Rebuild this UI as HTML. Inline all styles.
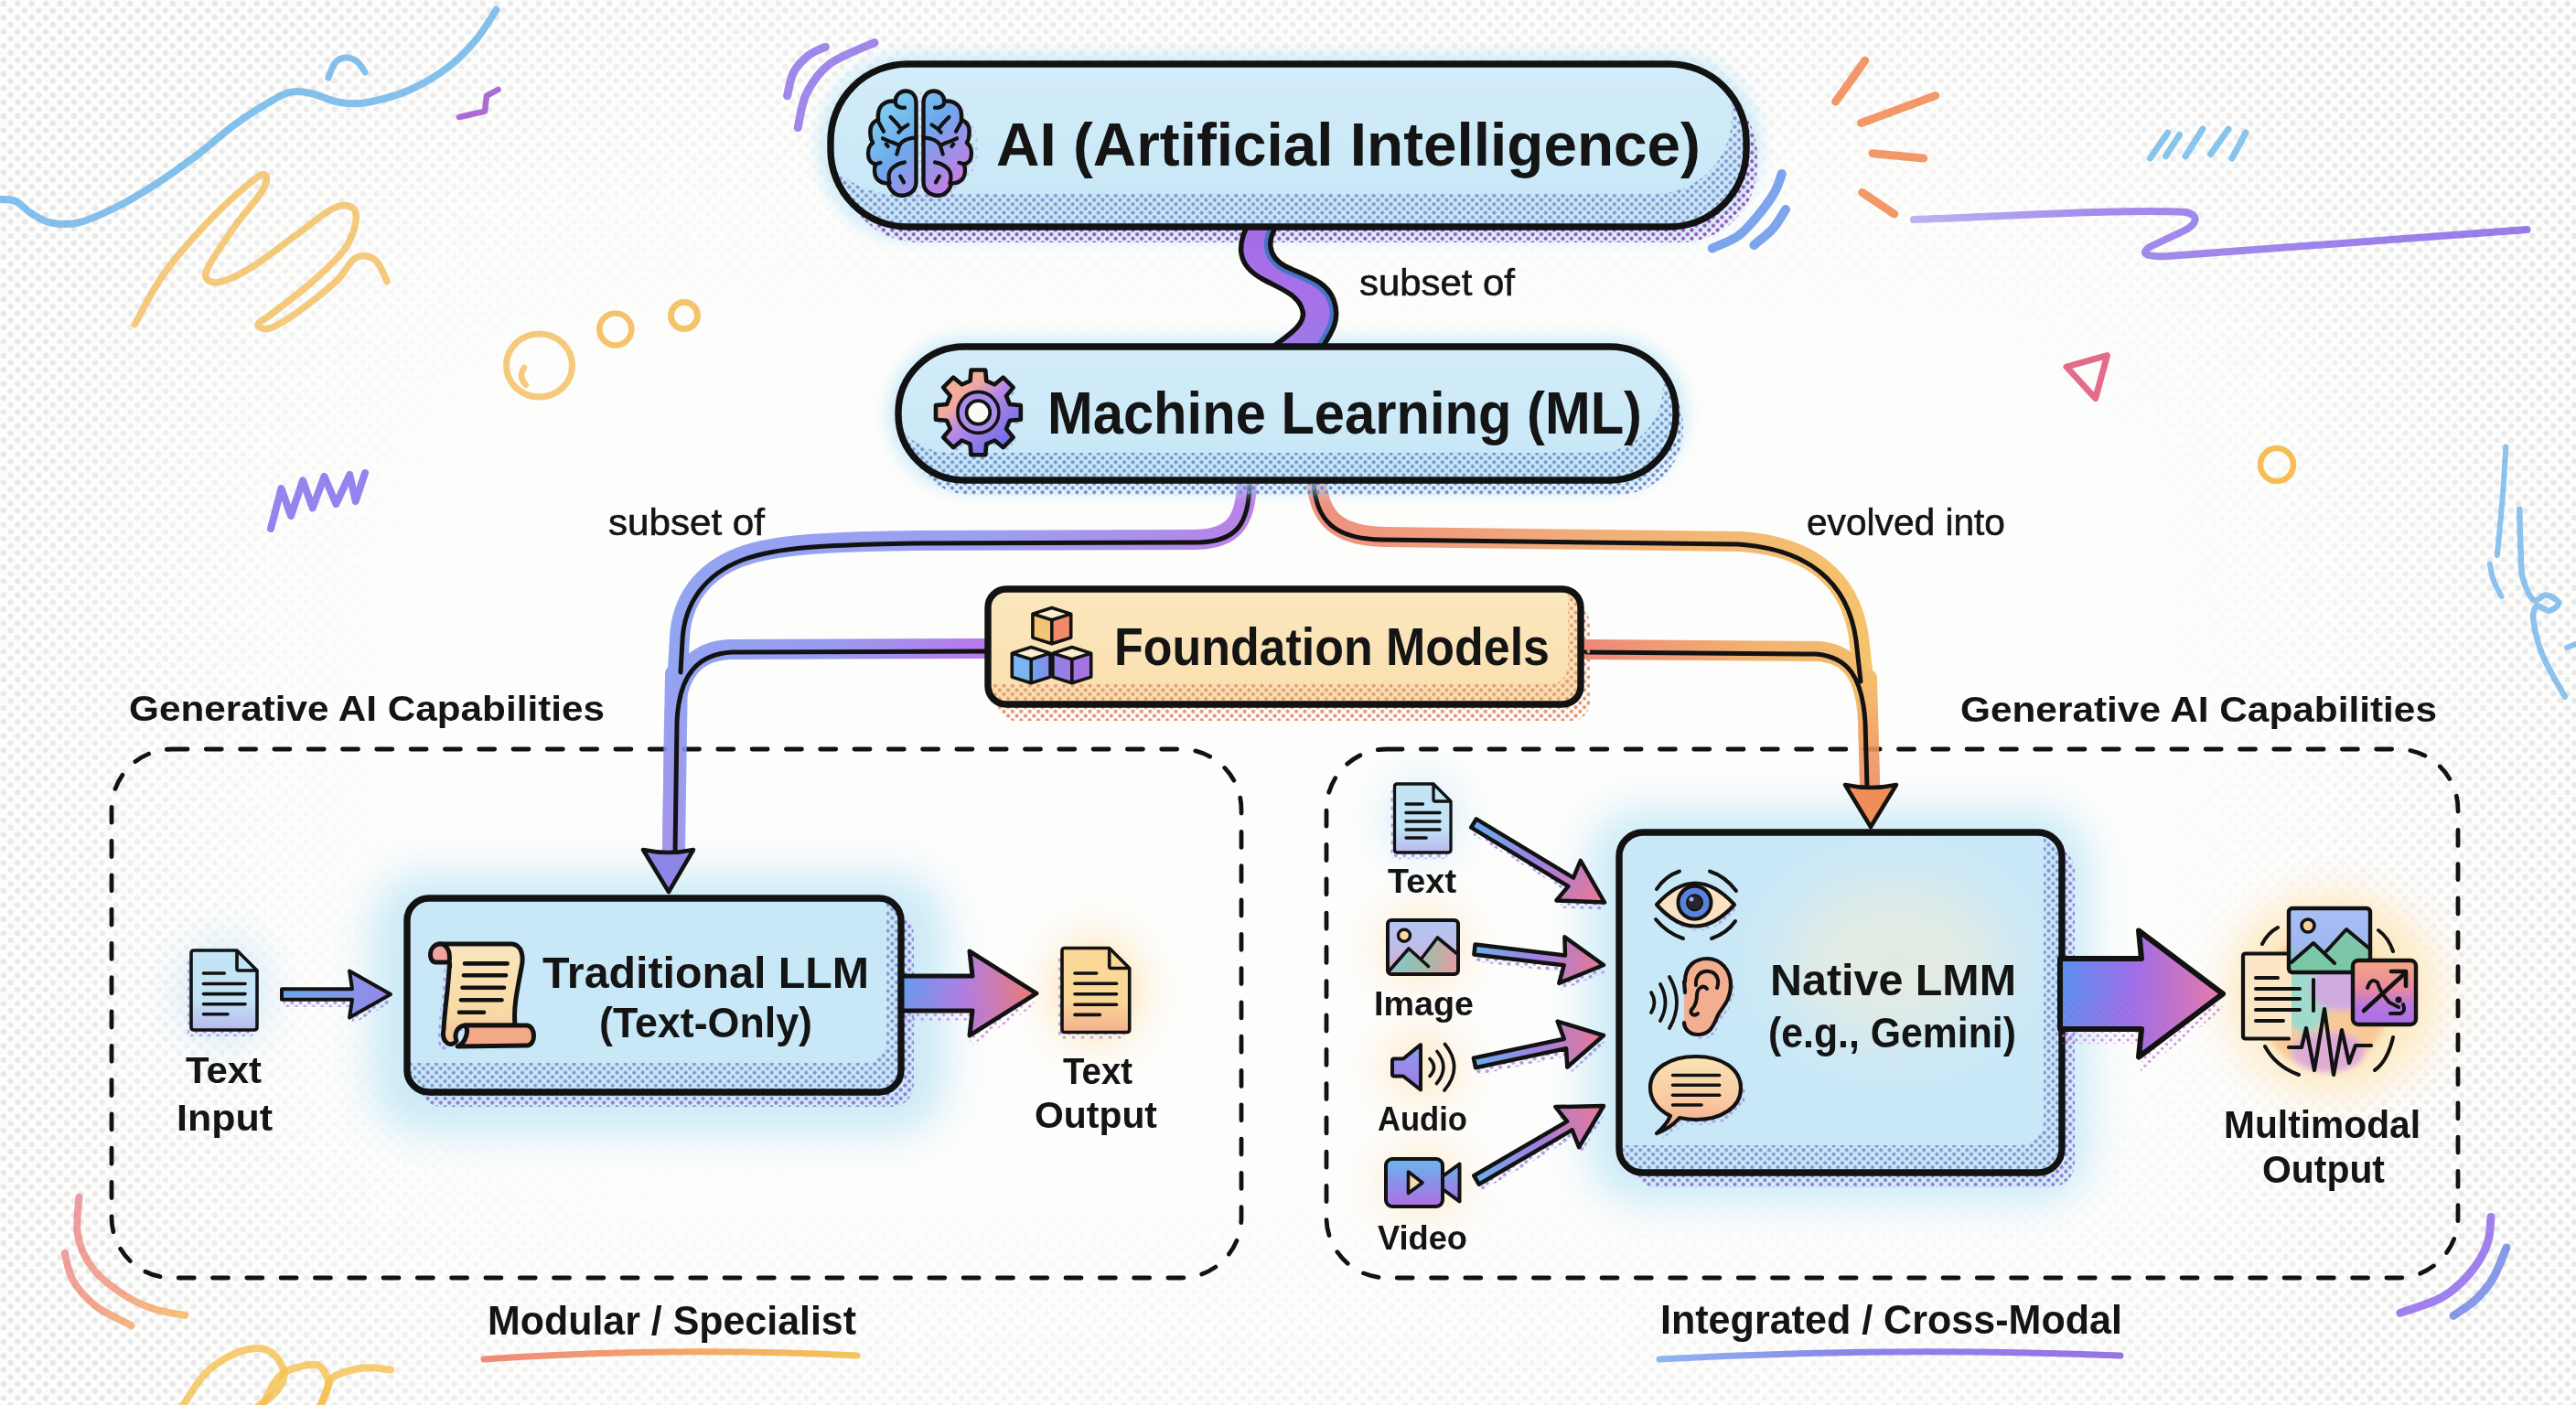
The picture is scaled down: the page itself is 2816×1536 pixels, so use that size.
<!DOCTYPE html>
<html><head><meta charset="utf-8">
<style>
html,body{margin:0;padding:0;background:#fdfdfc;}
body{width:2816px;height:1536px;overflow:hidden;position:relative;}
svg{position:absolute;left:0;top:0;display:block;}
text{font-family:"Liberation Sans",sans-serif;fill:#141414;}
</style></head><body>
<svg width="2816" height="1536" viewBox="0 0 2816 1536">
<defs>
<pattern id="bgdots" width="15.4" height="15.4" patternUnits="userSpaceOnUse">
    <circle cx="3.85" cy="3.85" r="3.2" fill="#e7e7e7"/><circle cx="11.55" cy="11.55" r="3.2" fill="#e7e7e7"/>
  </pattern>
  <filter id="blurBig" x="-50%" y="-50%" width="200%" height="200%"><feGaussianBlur stdDeviation="140"/></filter>
  <mask id="bgm"><rect width="2816" height="1536" fill="#fff"/><rect x="210" y="130" width="2380" height="1385" rx="480" fill="#000" filter="url(#blurBig)"/></mask>
<pattern id="dP" width="9.4" height="9.4" patternUnits="userSpaceOnUse"><circle cx="2.35" cy="2.35" r="2.1" fill="#9150bd"/><circle cx="7.05" cy="7.05" r="2.1" fill="#9150bd"/></pattern>
<pattern id="dB" width="9.4" height="9.4" patternUnits="userSpaceOnUse"><circle cx="2.35" cy="2.35" r="2.1" fill="#7d8ccf"/><circle cx="7.05" cy="7.05" r="2.1" fill="#7d8ccf"/></pattern>
<pattern id="dBB" width="9.4" height="9.4" patternUnits="userSpaceOnUse"><circle cx="2.35" cy="2.35" r="2.1" fill="#6d8ccc"/><circle cx="7.05" cy="7.05" r="2.1" fill="#6d8ccc"/></pattern>
<pattern id="dO" width="9.4" height="9.4" patternUnits="userSpaceOnUse"><circle cx="2.35" cy="2.35" r="2.1" fill="#e09470"/><circle cx="7.05" cy="7.05" r="2.1" fill="#e09470"/></pattern>
<pattern id="dV" width="9.4" height="9.4" patternUnits="userSpaceOnUse"><circle cx="2.35" cy="2.35" r="2.1" fill="#8f7ad8"/><circle cx="7.05" cy="7.05" r="2.1" fill="#8f7ad8"/></pattern>
<pattern id="dVs" width="10" height="10" patternUnits="userSpaceOnUse"><circle cx="2.50" cy="2.50" r="1.9" fill="#9a84e0"/><circle cx="7.50" cy="7.50" r="1.9" fill="#9a84e0"/></pattern>
<pattern id="dM" width="9.4" height="9.4" patternUnits="userSpaceOnUse"><circle cx="2.35" cy="2.35" r="1.7" fill="#c070d8"/><circle cx="7.05" cy="7.05" r="1.7" fill="#c070d8"/></pattern>
<linearGradient id="gPill" x1="0" y1="0" x2="0" y2="1"><stop offset="0" stop-color="#d3edf9"/><stop offset="1" stop-color="#c6e6f6"/></linearGradient>
<linearGradient id="gFound" x1="0" y1="0" x2="0" y2="1"><stop offset="0" stop-color="#fbe7bf"/><stop offset="1" stop-color="#f9dfae"/></linearGradient>
<linearGradient id="gUL1" x1="0" y1="0" x2="1" y2="0"><stop offset="0" stop-color="#ef8a7c"/><stop offset="0.45" stop-color="#f2a068"/><stop offset="1" stop-color="#f4c55a"/></linearGradient>
<linearGradient id="gUL2" x1="0" y1="0" x2="1" y2="0"><stop offset="0" stop-color="#8fb6ee"/><stop offset="0.4" stop-color="#8a84ea"/><stop offset="1" stop-color="#9a72e6"/></linearGradient>
<filter id="blur3" x="-20%" y="-20%" width="140%" height="140%"><feGaussianBlur stdDeviation="3"/></filter>
<filter id="blur8" x="-30%" y="-30%" width="160%" height="160%"><feGaussianBlur stdDeviation="8"/></filter>
<filter id="blur14" x="-40%" y="-40%" width="180%" height="180%"><feGaussianBlur stdDeviation="14"/></filter>
<filter id="blur20" x="-30%" y="-30%" width="160%" height="160%"><feGaussianBlur stdDeviation="22"/></filter>
<filter id="blur30" x="-50%" y="-50%" width="200%" height="200%"><feGaussianBlur stdDeviation="30"/></filter>
<linearGradient id="gL1" gradientUnits="userSpaceOnUse" x1="740" y1="0" x2="1370" y2="0"><stop offset="0" stop-color="#8498f0"/><stop offset="0.55" stop-color="#8f92ee"/><stop offset="0.85" stop-color="#a27ee8"/><stop offset="1" stop-color="#b070e4"/></linearGradient>
<linearGradient id="gL2" gradientUnits="userSpaceOnUse" x1="740" y1="0" x2="1080" y2="0"><stop offset="0" stop-color="#8498f0"/><stop offset="0.5" stop-color="#8c8eee"/><stop offset="1" stop-color="#b066e6"/></linearGradient>
<linearGradient id="gR1" gradientUnits="userSpaceOnUse" x1="1430" y1="0" x2="2050" y2="0"><stop offset="0" stop-color="#ec8270"/><stop offset="0.45" stop-color="#f0a068"/><stop offset="1" stop-color="#f4bc58"/></linearGradient>
<linearGradient id="gR2" gradientUnits="userSpaceOnUse" x1="1730" y1="0" x2="2050" y2="0"><stop offset="0" stop-color="#ec7868"/><stop offset="0.6" stop-color="#f0aa5c"/><stop offset="1" stop-color="#f3b45a"/></linearGradient>
<linearGradient id="gLv" gradientUnits="userSpaceOnUse" x1="0" y1="740" x2="0" y2="930"><stop offset="0" stop-color="#8498f0"/><stop offset="0.6" stop-color="#928cec"/><stop offset="1" stop-color="#9a88e8"/></linearGradient>
<linearGradient id="gRv" gradientUnits="userSpaceOnUse" x1="0" y1="745" x2="0" y2="858"><stop offset="0" stop-color="#f4b658"/><stop offset="0.4" stop-color="#f2a25a"/><stop offset="1" stop-color="#ee8a60"/></linearGradient>
<clipPath id="c908_70"><rect x="908" y="70" width="1001" height="178" rx="84"/></clipPath>
<mask id="m908_70"><rect x="888" y="50" width="1041" height="218" fill="#fff"/><rect x="892" y="34" width="1001" height="178" rx="84" fill="#000"/></mask>
<mask id="m982_379"><rect x="962" y="359" width="890" height="186" fill="#fff"/><rect x="968" y="349" width="850" height="146" rx="72" fill="#000"/></mask>
<clipPath id="cS"><path d="M1365,244 C1352,268 1352,290 1380,305 C1400,316 1420,322 1424,340 C1428,356 1405,368 1388,382 L1444,382 C1455,365 1466,350 1458,328 C1450,306 1425,301 1405,291 C1385,280 1385,262 1397,244 Z"/></clipPath>
<linearGradient id="gS" gradientUnits="userSpaceOnUse" x1="0" y1="244" x2="0" y2="382"><stop offset="0" stop-color="#a56ae8"/><stop offset="0.6" stop-color="#a870e8"/><stop offset="1" stop-color="#9a7ae8"/></linearGradient>
<mask id="m908_70"><rect x="888" y="50" width="1041" height="218" fill="#fff"/><rect x="892" y="34" width="1001" height="178" rx="84" fill="#000"/></mask>
<clipPath id="c982_379"><rect x="982" y="379" width="850" height="146" rx="72"/></clipPath>
<mask id="m982_379"><rect x="962" y="359" width="890" height="186" fill="#fff"/><rect x="968" y="349" width="850" height="146" rx="72" fill="#000"/></mask>
<clipPath id="c1080_644"><rect x="1080" y="644" width="648" height="126" rx="20"/></clipPath>
<mask id="m1080_644"><rect x="1060" y="624" width="688" height="166" fill="#fff"/><rect x="1066" y="622" width="648" height="126" rx="20" fill="#000"/></mask>
<clipPath id="c445_982"><rect x="445" y="982" width="540" height="212" rx="24"/></clipPath>
<mask id="m445_982"><rect x="425" y="962" width="580" height="252" fill="#fff"/><rect x="429" y="950" width="540" height="212" rx="24" fill="#000"/></mask>
<clipPath id="c1770_910"><rect x="1770" y="910" width="484" height="372" rx="26"/></clipPath>
<mask id="m1770_910"><rect x="1750" y="890" width="524" height="412" fill="#fff"/><rect x="1750" y="880" width="484" height="372" rx="26" fill="#000"/></mask>
<linearGradient id="gBrain" gradientUnits="userSpaceOnUse" x1="5" y1="5" x2="110" y2="115"><stop offset="0" stop-color="#80d8f0"/><stop offset="0.45" stop-color="#6ea8ec"/><stop offset="0.75" stop-color="#a98ae8"/><stop offset="1" stop-color="#e070dc"/></linearGradient>
<linearGradient id="gBrainR" gradientUnits="userSpaceOnUse" x1="110.6" y1="5" x2="5.6" y2="115"><stop offset="0" stop-color="#80d8f0"/><stop offset="0.45" stop-color="#6ea8ec"/><stop offset="0.75" stop-color="#a98ae8"/><stop offset="1" stop-color="#e070dc"/></linearGradient>
<linearGradient id="gGear" gradientUnits="userSpaceOnUse" x1="1030" y1="410" x2="1105" y2="490"><stop offset="0" stop-color="#f8b48a"/><stop offset="0.3" stop-color="#f0a8a0"/><stop offset="0.5" stop-color="#b88ae6"/><stop offset="0.75" stop-color="#8c78e8"/><stop offset="1" stop-color="#6a6ce6"/></linearGradient>
<linearGradient id="gCubeF" gradientUnits="userSpaceOnUse" x1="1128" y1="0" x2="1172" y2="0"><stop offset="0" stop-color="#6aa6ee"/><stop offset="0.5" stop-color="#8c86ea"/><stop offset="1" stop-color="#a476e4"/></linearGradient>
<linearGradient id="gdoc209" x1="0" y1="0" x2="0" y2="1"><stop offset="0" stop-color="#c2e4f5"/><stop offset="0.62" stop-color="#c2e4f5"/><stop offset="1" stop-color="#b8b8ee"/></linearGradient>
<linearGradient id="gdoc1161" x1="0" y1="0" x2="0" y2="1"><stop offset="0" stop-color="#fad898"/><stop offset="0.62" stop-color="#fad898"/><stop offset="1" stop-color="#f4b090"/></linearGradient>
<linearGradient id="gdoc1524" x1="0" y1="0" x2="0" y2="1"><stop offset="0" stop-color="#c2e4f5"/><stop offset="0.62" stop-color="#c2e4f5"/><stop offset="1" stop-color="#b8b8ee"/></linearGradient>
<linearGradient id="gScroll" x1="0" y1="0" x2="0" y2="1"><stop offset="0" stop-color="#fae6bd"/><stop offset="0.7" stop-color="#f8d9a4"/><stop offset="1" stop-color="#f4bc94"/></linearGradient>
<linearGradient id="gArrIn" gradientUnits="userSpaceOnUse" x1="306" y1="0" x2="430" y2="0"><stop offset="0" stop-color="#6aa8ea"/><stop offset="0.5" stop-color="#7f98ea"/><stop offset="1" stop-color="#9a86e8"/></linearGradient>
<linearGradient id="gArrOut" gradientUnits="userSpaceOnUse" x1="990" y1="0" x2="1133" y2="0"><stop offset="0" stop-color="#6a9aee"/><stop offset="0.45" stop-color="#b07ee0"/><stop offset="1" stop-color="#f07a70"/></linearGradient>
<clipPath id="ca986_1086"><path d="M986.0,1067.0 L1063.0,1067.0 L1060.0,1040.0 L1133.0,1086.0 L1060.0,1132.0 L1063.0,1105.0 L986.0,1105.0 Z"/></clipPath>
<linearGradient id="gArrBig" gradientUnits="userSpaceOnUse" x1="2255" y1="0" x2="2430" y2="0"><stop offset="0" stop-color="#5c8ef0"/><stop offset="0.45" stop-color="#a06ee6"/><stop offset="1" stop-color="#e87aa8"/></linearGradient>
<clipPath id="ca2252_1086"><path d="M2252.0,1048.0 L2341.0,1048.0 L2338.0,1017.5 L2430.0,1086.5 L2338.0,1155.5 L2341.0,1125.0 L2252.0,1125.0 Z"/></clipPath>
<linearGradient id="gA900" gradientUnits="userSpaceOnUse" x1="1611" y1="900" x2="1754" y2="986.5"><stop offset="0" stop-color="#6aaeee"/><stop offset="0.5" stop-color="#a080e0"/><stop offset="1" stop-color="#ec7890"/></linearGradient>
<linearGradient id="gA1038" gradientUnits="userSpaceOnUse" x1="1612" y1="1038" x2="1753" y2="1055"><stop offset="0" stop-color="#6aaeee"/><stop offset="0.5" stop-color="#a080e0"/><stop offset="1" stop-color="#ec7890"/></linearGradient>
<linearGradient id="gA1162" gradientUnits="userSpaceOnUse" x1="1612" y1="1162" x2="1753" y2="1132"><stop offset="0" stop-color="#6aaeee"/><stop offset="0.5" stop-color="#a080e0"/><stop offset="1" stop-color="#ec7890"/></linearGradient>
<linearGradient id="gA1290" gradientUnits="userSpaceOnUse" x1="1614" y1="1290" x2="1753" y2="1209"><stop offset="0" stop-color="#6aaeee"/><stop offset="0.5" stop-color="#a080e0"/><stop offset="1" stop-color="#ec7890"/></linearGradient>
<linearGradient id="gImg" x1="0" y1="0" x2="0" y2="1"><stop offset="0" stop-color="#b4c6f2"/><stop offset="0.55" stop-color="#c0bce8"/><stop offset="1" stop-color="#e8a0b0"/></linearGradient>
<linearGradient id="gMt" gradientUnits="userSpaceOnUse" x1="1519" y1="0" x2="1592" y2="0"><stop offset="0" stop-color="#7ec8d8"/><stop offset="0.5" stop-color="#90c0a0"/><stop offset="1" stop-color="#e89aa0"/></linearGradient>
<linearGradient id="gAud" x1="0" y1="0" x2="0" y2="1"><stop offset="0" stop-color="#8a9cf0"/><stop offset="1" stop-color="#a57ae6"/></linearGradient>
<linearGradient id="gVid" x1="0" y1="0" x2="0" y2="1"><stop offset="0" stop-color="#6ab8ee"/><stop offset="0.5" stop-color="#8a90e8"/><stop offset="1" stop-color="#b070e0"/></linearGradient>
<linearGradient id="gBub" x1="0" y1="0" x2="0" y2="1"><stop offset="0" stop-color="#fbe2b4"/><stop offset="0.6" stop-color="#f8c9a0"/><stop offset="1" stop-color="#f3a084"/></linearGradient>
<linearGradient id="gMimg" x1="0" y1="0" x2="0" y2="1"><stop offset="0" stop-color="#a8c0f4"/><stop offset="0.55" stop-color="#a0b8f0"/><stop offset="1" stop-color="#80c8b0"/></linearGradient>
<linearGradient id="gChart" x1="0" y1="0" x2="0" y2="1"><stop offset="0" stop-color="#f4a884"/><stop offset="0.45" stop-color="#e888a0"/><stop offset="0.7" stop-color="#b876e0"/><stop offset="1" stop-color="#a86ee6"/></linearGradient>
<linearGradient id="gZig" gradientUnits="userSpaceOnUse" x1="2090" y1="0" x2="2765" y2="0"><stop offset="0" stop-color="#b0a0f0"/><stop offset="0.3" stop-color="#8c70e8"/><stop offset="1" stop-color="#7f5ee6"/></linearGradient>
<linearGradient id="gBL" gradientUnits="userSpaceOnUse" x1="70" y1="1300" x2="200" y2="1440"><stop offset="0" stop-color="#e8788e"/><stop offset="0.6" stop-color="#ef8a6a"/><stop offset="1" stop-color="#f5b050"/></linearGradient>
</defs>
<rect width="2816" height="1536" fill="#fdfdfc"/>
<rect width="2816" height="1536" fill="url(#bgdots)" mask="url(#bgm)"/>
<path d="M0,218 C2.8,218.3 11.3,217.5 17.0,220.0 C22.7,222.5 27.6,229.1 34.0,233.0 C40.4,236.9 46.9,241.8 55.5,243.5 C64.1,245.2 73.3,246.4 85.4,243.5 C97.5,240.6 113.7,233.1 128.0,226.0 C142.3,218.9 156.7,210.0 171.0,200.8 C185.3,191.6 199.4,181.7 213.6,171.0 C227.8,160.3 241.8,147.0 256.0,136.7 C270.2,126.4 288.3,115.0 299.0,109.0 C309.7,103.0 312.9,101.5 320.0,100.4 C327.1,99.3 333.1,100.6 341.7,102.5 C350.3,104.4 361.6,110.4 371.6,112.0 C381.6,113.6 388.7,114.3 401.5,112.0 C414.3,109.7 433.6,104.6 448.5,98.0 C463.4,91.4 478.9,81.8 491.0,72.6 C503.1,63.4 512.4,53.0 521.0,42.7 C529.6,32.4 538.9,16.0 542.5,10.7" fill="none" stroke="#66b2e8" stroke-width="8" stroke-linecap="round" stroke-linejoin="round" opacity="0.8"/>
<path d="M359,85 C360.2,82.3 363.0,72.7 366.0,69.0 C369.0,65.3 373.0,63.3 377.0,63.0 C381.0,62.7 386.3,64.3 390.0,67.0 C393.7,69.7 397.5,77.0 399.0,79.0" fill="none" stroke="#66b2e8" stroke-width="7" stroke-linecap="round" stroke-linejoin="round" opacity="0.8"/>
<path d="M502,128 L530,121.7 L532,104.7 L544.6,98" fill="none" stroke="#9648c8" stroke-width="6.5" stroke-linecap="round" stroke-linejoin="round" opacity="0.8"/>
<path d="M147.4,354.5 C152.7,345.2 165.5,318.2 179.4,299.0 C193.3,279.8 214.3,256.3 230.7,239.2 C247.1,222.1 267.7,204.3 277.7,196.5 C287.7,188.7 289.1,190.1 290.5,192.2 C291.9,194.3 291.9,200.0 286.2,209.3 C280.5,218.6 265.9,234.3 256.3,247.8 C246.7,261.3 233.5,280.9 228.5,290.5 C223.5,300.1 223.9,302.5 226.4,305.4 C228.9,308.2 234.9,310.1 243.5,307.6 C252.1,305.1 264.2,299.1 277.7,290.5 C291.2,281.9 310.4,266.6 324.6,256.3 C338.8,246.0 353.0,233.5 363.0,228.5 C373.0,223.5 380.2,223.9 384.5,226.4 C388.8,228.9 390.1,235.7 388.7,243.5 C387.3,251.3 383.7,262.7 375.9,273.4 C368.1,284.1 354.5,296.2 341.7,307.6 C328.9,319.0 308.9,333.9 299.0,341.7 C289.1,349.5 282.7,351.6 282.0,354.5 C281.3,357.4 287.6,360.9 294.7,358.8 C301.8,356.7 312.5,350.2 324.6,341.7 C336.7,333.2 356.7,317.6 367.4,307.6 C378.1,297.7 381.6,285.9 388.7,282.0 C395.8,278.1 404.3,279.7 410.0,284.0 C415.7,288.3 420.8,303.7 423.0,307.6" fill="none" stroke="#f4bd5c" stroke-width="7.5" stroke-linecap="round" stroke-linejoin="round" opacity="0.8"/>
<ellipse cx="589.5" cy="399.5" rx="36" ry="34.5" fill="none" stroke="#f4bd5c" stroke-width="7" opacity="0.8"/>
<path d="M573,402 Q566,412 575,421" fill="none" stroke="#f4bd5c" stroke-width="6.5" stroke-linecap="round" stroke-linejoin="round" opacity="0.8"/>
<circle cx="672.8" cy="360" r="17.5" fill="none" stroke="#f4bd5c" stroke-width="6.5" opacity="0.9"/>
<circle cx="748" cy="345" r="14.5" fill="none" stroke="#f4bd5c" stroke-width="7" opacity="0.9"/>
<path d="M296,578 L307.5,534 L318,564 L331,525.4 L341.7,555.3 L354.5,521 L367.4,551 L382.3,519 L388.7,548 L399,517" fill="none" stroke="#7c64ea" stroke-width="8" stroke-linecap="round" stroke-linejoin="round" opacity="0.8"/>
<path d="M860.6,104.8 C861.8,100.5 863.6,86.6 867.5,79.2 C871.4,71.8 878.0,65.3 883.8,60.6 C889.6,55.9 899.4,52.8 902.5,51.2" fill="none" stroke="#8a6ae6" stroke-width="9" stroke-linecap="round" stroke-linejoin="round" opacity="0.8"/>
<path d="M872.2,139.7 C873.8,133.5 875.7,114.1 881.5,102.5 C887.3,90.9 894.6,79.2 907.0,69.9 C919.4,60.6 947.8,50.5 956.0,46.6" fill="none" stroke="#8a6ae6" stroke-width="9" stroke-linecap="round" stroke-linejoin="round" opacity="0.8"/>
<path d="M1871.7,271.5 C1876.4,269.2 1891.7,264.0 1900.0,258.0 C1908.3,252.0 1915.0,243.6 1921.7,235.6 C1928.4,227.6 1935.7,217.6 1940.0,210.0 C1944.3,202.4 1946.5,193.3 1947.8,190.0" fill="none" stroke="#5b8ee8" stroke-width="10" stroke-linecap="round" stroke-linejoin="round" opacity="0.8"/>
<path d="M1917.4,268 C1920.8,265.0 1932.2,256.5 1938.0,250.0 C1943.8,243.5 1949.7,232.5 1952.0,229.0" fill="none" stroke="#5b8ee8" stroke-width="10" stroke-linecap="round" stroke-linejoin="round" opacity="0.8"/>
<path d="M2006.7,111 L2038.8,66.2" fill="none" stroke="#f07e42" stroke-width="9" stroke-linecap="round" stroke-linejoin="round" opacity="0.8"/>
<path d="M2034.5,134.5 L2115.6,104.6" fill="none" stroke="#f07e42" stroke-width="9" stroke-linecap="round" stroke-linejoin="round" opacity="0.8"/>
<path d="M2047,167.8 L2102.8,173" fill="none" stroke="#f07e42" stroke-width="9" stroke-linecap="round" stroke-linejoin="round" opacity="0.8"/>
<path d="M2035.8,210.5 L2070.8,234" fill="none" stroke="#f07e42" stroke-width="9" stroke-linecap="round" stroke-linejoin="round" opacity="0.8"/>
<path d="M2350.5,173 L2369.7,145" fill="none" stroke="#6cb8ea" stroke-width="7" stroke-linecap="round" stroke-linejoin="round" opacity="0.8"/>
<path d="M2367.5,170.8 L2382.5,147.3" fill="none" stroke="#6cb8ea" stroke-width="7" stroke-linecap="round" stroke-linejoin="round" opacity="0.8"/>
<path d="M2389,170.8 L2408,141" fill="none" stroke="#6cb8ea" stroke-width="7" stroke-linecap="round" stroke-linejoin="round" opacity="0.8"/>
<path d="M2416.6,168.7 L2436,141" fill="none" stroke="#6cb8ea" stroke-width="7" stroke-linecap="round" stroke-linejoin="round" opacity="0.8"/>
<path d="M2440,173 L2455,145" fill="none" stroke="#6cb8ea" stroke-width="7" stroke-linecap="round" stroke-linejoin="round" opacity="0.8"/>
<path d="M2092,240 C2200,236 2330,228 2390,232 C2406,236 2400,246 2388,252 L2350,270 C2338,278 2348,281 2370,280 L2762.5,251" fill="none" stroke="url(#gZig)" stroke-width="8" stroke-linecap="round" stroke-linejoin="round" opacity="0.8"/>
<path d="M2259,401 L2303.5,388.6 L2290.7,435.5 Z" fill="none" stroke="#e05c7c" stroke-width="7" stroke-linejoin="round" opacity="0.9"/>
<circle cx="2489" cy="508" r="18" fill="none" stroke="#f4b844" stroke-width="6.5" opacity="0.9"/>
<path d="M2739.4,488.5 C2738.8,497.1 2737.2,523.9 2736.0,540.0 C2734.8,556.1 2733.0,573.8 2732.0,585.0 C2731.0,596.2 2730.2,603.3 2729.8,607.0" fill="none" stroke="#70b4ea" stroke-width="6" stroke-linecap="round" stroke-linejoin="round" opacity="0.8"/>
<path d="M2721.8,616.7 C2722.5,619.8 2723.9,629.1 2726.0,635.0 C2728.1,640.9 2733.2,649.2 2734.6,652.0" fill="none" stroke="#70b4ea" stroke-width="6" stroke-linecap="round" stroke-linejoin="round" opacity="0.8"/>
<path d="M2754.2,556.7 C2754.4,563.9 2754.9,587.5 2755.5,600.0 C2756.1,612.5 2755.3,622.5 2757.7,631.8 C2760.0,641.1 2765.3,652.6 2769.6,655.7 C2773.9,658.8 2778.7,650.1 2783.3,650.6 C2787.9,651.1 2796.4,656.1 2797.0,659.0 C2797.6,661.9 2790.7,667.1 2786.7,667.7 C2782.7,668.3 2775.8,660.6 2773.0,662.6 C2770.2,664.6 2768.4,670.5 2769.6,679.6 C2770.8,688.7 2774.2,703.5 2779.9,717.2 C2785.6,730.9 2799.8,754.2 2803.8,761.6" fill="none" stroke="#70b4ea" stroke-width="6.5" stroke-linecap="round" stroke-linejoin="round" opacity="0.8"/>
<path d="M2806,708 L2816,704" fill="none" stroke="#70b4ea" stroke-width="6" stroke-linecap="round" stroke-linejoin="round" opacity="0.8"/>
<path d="M86.4,1309 C86.2,1315.8 82.7,1337.3 85.0,1350.0 C87.3,1362.7 92.5,1374.7 100.0,1385.0 C107.5,1395.3 119.2,1404.5 130.0,1412.0 C140.8,1419.5 153.0,1425.7 165.0,1430.0 C177.0,1434.3 195.8,1436.7 202.0,1438.0" fill="none" stroke="url(#gBL)" stroke-width="8" stroke-linecap="round" stroke-linejoin="round" opacity="0.75"/>
<path d="M70.8,1370 C72.3,1375.0 74.3,1390.3 80.0,1400.0 C85.7,1409.7 94.4,1419.8 105.0,1428.0 C115.6,1436.2 137.2,1445.5 143.6,1449.0" fill="none" stroke="url(#gBL)" stroke-width="8" stroke-linecap="round" stroke-linejoin="round" opacity="0.75"/>
<path d="M198,1540 C202.2,1533.8 214.0,1512.7 223.0,1503.0 C232.0,1493.3 242.3,1486.8 252.0,1482.0 C261.7,1477.2 273.2,1474.0 281.4,1474.0 C289.5,1474.0 296.0,1477.2 300.9,1482.0 C305.8,1486.8 310.6,1496.2 310.6,1503.0 C310.6,1509.8 305.8,1516.8 300.9,1522.6 C296.0,1528.4 284.6,1535.4 281.4,1538.0" fill="none" stroke="#f4c050" stroke-width="8" stroke-linecap="round" stroke-linejoin="round" opacity="0.8"/>
<path d="M285,1540 C288.3,1534.2 297.5,1512.8 305.0,1505.0 C312.5,1497.2 322.6,1495.4 330.0,1493.5 C337.4,1491.6 344.6,1490.2 349.4,1493.5 C354.2,1496.8 359.0,1505.6 359.0,1513.0 C359.0,1520.4 351.0,1533.8 349.4,1538.0" fill="none" stroke="#f4c050" stroke-width="8" stroke-linecap="round" stroke-linejoin="round" opacity="0.8"/>
<path d="M350,1540 C351.7,1535.3 356.9,1518.2 360.0,1512.0 C363.1,1505.8 362.5,1505.8 368.8,1503.0 C375.1,1500.2 388.3,1496.4 398.0,1495.5 C407.7,1494.6 422.2,1497.1 427.0,1497.4" fill="none" stroke="#f4c050" stroke-width="8" stroke-linecap="round" stroke-linejoin="round" opacity="0.8"/>
<path d="M2723,1330.4 C2722.3,1335.3 2722.8,1349.7 2719.0,1360.0 C2715.2,1370.3 2708.2,1382.3 2700.0,1392.0 C2691.8,1401.7 2682.7,1410.8 2670.0,1418.0 C2657.3,1425.2 2631.7,1432.4 2624.0,1435.3" fill="none" stroke="#8a62e8" stroke-width="9" stroke-linecap="round" stroke-linejoin="round" opacity="0.8"/>
<path d="M2740,1364 C2737.5,1369.7 2730.8,1388.3 2725.0,1398.0 C2719.2,1407.7 2712.2,1415.3 2705.0,1422.0 C2697.8,1428.7 2685.8,1435.7 2682.0,1438.4" fill="none" stroke="#6a82e6" stroke-width="9" stroke-linecap="round" stroke-linejoin="round" opacity="0.8"/>
<g id="glows" filter="url(#blur20)" opacity="0.8">
  <rect x="405" y="955" width="630" height="285" rx="60" fill="#bfe6f6"/>
  <rect x="1735" y="885" width="550" height="430" rx="60" fill="#bfe6f6"/>
  <ellipse cx="245" cy="1085" rx="50" ry="58" fill="#cdeaf8"/>
  <ellipse cx="1555" cy="895" rx="40" ry="45" fill="#cdeaf8"/>
  <ellipse cx="1198" cy="1083" rx="50" ry="58" fill="#fde0aa"/>
  <ellipse cx="1555" cy="1035" rx="48" ry="40" fill="#fde6c0"/>
  <ellipse cx="1555" cy="1166" rx="42" ry="38" fill="#fde6c0"/>
  <ellipse cx="1555" cy="1292" rx="45" ry="36" fill="#fde6c0"/>
</g>
<ellipse cx="2550" cy="1088" rx="125" ry="118" fill="#fdf3e0" filter="url(#blur20)"/>
<ellipse cx="2550" cy="1085" rx="100" ry="95" fill="#fde4b4" opacity="0.8" filter="url(#blur20)"/>
<rect x="122" y="819" width="1235" height="578" rx="66" fill="none" stroke="#121212" stroke-width="4.8" stroke-dasharray="17 20.3" stroke-linecap="round"/>
<rect x="1450" y="819" width="1237" height="578" rx="66" fill="none" stroke="#121212" stroke-width="4.8" stroke-dasharray="17 20.3" stroke-linecap="round"/>
<g id="conn">
  <g opacity="0.88">
  <path d="M1366,526 C1366,575 1350,592 1310,593 L1000,594 C900,596 850,598 812,612 C770,628 748,660 746,700 L744,735 L741,935" transform="translate(-3,-3)" fill="none" stroke="url(#gL1)" stroke-width="22" stroke-linecap="round" stroke-linejoin="round"/>
  <path d="M1078,712 L800,713 C765,715 742,735 740,790 L738,932" transform="translate(-3,-3)" fill="none" stroke="url(#gL2)" stroke-width="22" stroke-linecap="round" stroke-linejoin="round"/>
  <path d="M741,740 L738,930" transform="translate(-3,-3)" fill="none" stroke="url(#gLv)" stroke-width="22" stroke-linecap="round"/>
  <path d="M1436,526 C1438,570 1460,589 1510,590 L1900,595 C1975,600 2020,635 2029,700 L2034,745" transform="translate(3,-3)" fill="none" stroke="url(#gR1)" stroke-width="22" stroke-linecap="round" stroke-linejoin="round"/>
  <path d="M1732,713 L1985,715 C2020,718 2036,740 2039,790 L2041,860" transform="translate(3,-3)" fill="none" stroke="url(#gR2)" stroke-width="22" stroke-linecap="round" stroke-linejoin="round"/>
  <path d="M2038,745 L2041,858" transform="translate(3,-3)" fill="none" stroke="url(#gRv)" stroke-width="22" stroke-linecap="round"/>
  </g>
  <path d="M1366,526 C1366,575 1350,592 1310,593 L1000,594 C900,596 850,598 812,612 C770,628 748,660 746,700 L744,735" fill="none" stroke="#121212" stroke-width="5" stroke-linecap="round"/>
  <path d="M1078,712 L800,713 C765,715 742,735 740,790 L738,932" fill="none" stroke="#121212" stroke-width="5" stroke-linecap="round"/>
  <path d="M703,929 Q731,935 758,929 L731,975 Z" fill="#8d86e6" stroke="#121212" stroke-width="4.5" stroke-linejoin="round"/>
  <path d="M1436,526 C1438,570 1460,589 1510,590 L1900,595 C1975,600 2020,635 2029,700 L2034,745" fill="none" stroke="#121212" stroke-width="5" stroke-linecap="round"/>
  <path d="M1732,713 L1985,715 C2020,718 2036,740 2039,790 L2041,860" fill="none" stroke="#121212" stroke-width="5" stroke-linecap="round"/>
  <path d="M2017,858 Q2045,864 2073,858 L2045,904 Z" fill="#f08e5a" stroke="#121212" stroke-width="4.5" stroke-linejoin="round"/>
</g>
<rect x="895" y="58" width="1030" height="205" rx="100" fill="#bfe6f7" filter="url(#blur8)" opacity="0.7"/>
<rect x="970" y="368" width="875" height="170" rx="85" fill="#bfe6f7" filter="url(#blur8)" opacity="0.7"/>
<rect x="920" y="87" width="1001" height="178" rx="84" fill="url(#dP)" opacity="1.0"/>
<rect x="990" y="395" width="850" height="146" rx="72" fill="url(#dBB)" opacity="1.0"/>
<path d="M1365,244 C1352,268 1352,290 1380,305 C1400,316 1420,322 1424,340 C1428,356 1405,368 1388,382 L1444,382 C1455,365 1466,350 1458,328 C1450,306 1425,301 1405,291 C1385,280 1385,262 1397,244 Z" fill="url(#gS)"/>
<path d="M1365,244 C1352,268 1352,290 1380,305 C1400,316 1420,322 1424,340 C1428,356 1405,368 1388,382 L1444,382 C1455,365 1466,350 1458,328 C1450,306 1425,301 1405,291 C1385,280 1385,262 1397,244 Z" fill="url(#dVs)" opacity="0.25"/>
<g clip-path="url(#cS)"><path d="M1397,244 C1385,262 1385,280 1405,291 C1425,301 1450,306 1458,328 C1466,350 1455,365 1444,382" fill="none" stroke="#3d74c4" stroke-width="14" opacity="0.9"/></g>
<path d="M1365,244 C1352,268 1352,290 1380,305 C1400,316 1420,322 1424,340 C1428,356 1405,368 1388,382" fill="none" stroke="#121212" stroke-width="5.5" stroke-linecap="round"/>
<path d="M1397,244 C1385,262 1385,280 1405,291 C1425,301 1450,306 1458,328 C1466,350 1455,365 1444,382" fill="none" stroke="#121212" stroke-width="5.5" stroke-linecap="round"/>
<g>
  
  <rect x="908" y="70" width="1001" height="178" rx="84" fill="url(#gPill)"/>
  <g clip-path="url(#c908_70)"><rect x="903" y="65" width="1011" height="188" fill="url(#dB)" mask="url(#m908_70)" opacity="0.9"/></g>
  
  <rect x="908" y="70" width="1001" height="178" rx="84" fill="none" stroke="#121212" stroke-width="7.4"/>
</g>
<g>
  
  <rect x="982" y="379" width="850" height="146" rx="72" fill="url(#gPill)"/>
  <g clip-path="url(#c982_379)"><rect x="977" y="374" width="860" height="156" fill="url(#dBB)" mask="url(#m982_379)" opacity="0.9"/></g>
  
  <rect x="982" y="379" width="850" height="146" rx="72" fill="none" stroke="#121212" stroke-width="7.4"/>
</g>
<g>
  <rect x="1090" y="662" width="648" height="126" rx="20" fill="url(#dO)" opacity="1.0"/>
  <rect x="1080" y="644" width="648" height="126" rx="20" fill="url(#gFound)"/>
  <g clip-path="url(#c1080_644)"><rect x="1075" y="639" width="658" height="136" fill="url(#dO)" mask="url(#m1080_644)" opacity="0.9"/></g>
  
  <rect x="1080" y="644" width="648" height="126" rx="20" fill="none" stroke="#121212" stroke-width="7.4"/>
</g>
<g>
  <rect x="459" y="998" width="540" height="212" rx="24" fill="url(#dV)" opacity="1.0"/>
  <rect x="445" y="982" width="540" height="212" rx="24" fill="#c9e8f7"/>
  <g clip-path="url(#c445_982)"><rect x="440" y="977" width="550" height="222" fill="url(#dB)" mask="url(#m445_982)" opacity="0.9"/></g>
  
  <rect x="445" y="982" width="540" height="212" rx="24" fill="none" stroke="#121212" stroke-width="7.4"/>
</g>
<g>
  <rect x="1784" y="926" width="484" height="372" rx="26" fill="url(#dV)" opacity="1.0"/>
  <rect x="1770" y="910" width="484" height="372" rx="26" fill="#c9e8f7"/>
  <g clip-path="url(#c1770_910)"><rect x="1765" y="905" width="494" height="382" fill="url(#dB)" mask="url(#m1770_910)" opacity="0.9"/></g>
  <ellipse cx="2072" cy="1050" rx="120" ry="85" fill="#fcefd0" opacity="0.5" filter="url(#blur30)"/>
  <rect x="1770" y="910" width="484" height="372" rx="26" fill="none" stroke="#121212" stroke-width="7.4"/>
</g>
<path d="M529,1486 Q730,1472 937,1482" stroke="url(#gUL1)" stroke-width="7" fill="none" stroke-linecap="round"/>
<path d="M1814,1486 Q2060,1472 2318,1482" stroke="url(#gUL2)" stroke-width="7" fill="none" stroke-linecap="round"/>
<g transform="translate(947.7,99)"><ellipse cx="62" cy="62" rx="60" ry="60" fill="url(#dM)" opacity="0.35"/><g><path d="M53.8,14 C53.8,4 48,0.5 42.5,0.5 C36,0.5 31,5.5 31,12 C24,10 15,14 13,22 C12,26 12,30 12.5,32 C6,34 3,40 3.8,48 C4,52 5,55 6.5,57 C1.5,61 0.5,68 2,74 C3.5,78 6.5,80 9.6,80.5 C7.5,85 8,93 11,96.5 C14,100 19,101.5 23,101.3 C25,109 31,115 38.4,114.8 C46,114.5 53.8,110 53.8,100 Z" fill="url(#gBrain)" stroke="#121212" stroke-width="4.4" stroke-linejoin="round"/><path d="M31,12 C31,16.5 35,19.5 41.3,18.7 M12.5,34 L18.3,44.7 M9.6,80.5 L14.9,78.8 M41.3,78.3 C33,79.5 25,85 24,92 C23.5,96 24,99 25,101.3 M17.3,52.3 C23,55 30,57.5 35.5,60 C38,55 45,52 53.8,51.4 M35.5,60 L32.6,69.6 M25.9,29 C30,33 34,37 36.5,41 M44.7,37.5 C40,40 36,44 34.6,45.6 M36.5,93.7 L40.3,100.4 M21,58.6 L23,61" fill="none" stroke="#121212" stroke-width="4.2" stroke-linecap="round"/></g><g transform="translate(115.6,0) scale(-1,1)"><path d="M53.8,14 C53.8,4 48,0.5 42.5,0.5 C36,0.5 31,5.5 31,12 C24,10 15,14 13,22 C12,26 12,30 12.5,32 C6,34 3,40 3.8,48 C4,52 5,55 6.5,57 C1.5,61 0.5,68 2,74 C3.5,78 6.5,80 9.6,80.5 C7.5,85 8,93 11,96.5 C14,100 19,101.5 23,101.3 C25,109 31,115 38.4,114.8 C46,114.5 53.8,110 53.8,100 Z" fill="url(#gBrainR)" stroke="#121212" stroke-width="4.4" stroke-linejoin="round"/><path d="M31,12 C31,16.5 35,19.5 41.3,18.7 M12.5,34 L18.3,44.7 M9.6,80.5 L14.9,78.8 M41.3,78.3 C33,79.5 25,85 24,92 C23.5,96 24,99 25,101.3 M17.3,52.3 C23,55 30,57.5 35.5,60 C38,55 45,52 53.8,51.4 M35.5,60 L32.6,69.6 M25.9,29 C30,33 34,37 36.5,41 M44.7,37.5 C40,40 36,44 34.6,45.6 M36.5,93.7 L40.3,100.4 M21,58.6 L23,61" fill="none" stroke="#121212" stroke-width="4.2" stroke-linecap="round"/></g></g>
<path d="M1063.5,420.5 L1064.6,408.5 L1080.2,408.5 L1081.3,420.5 L1090.4,424.3 L1099.7,416.6 L1110.7,427.6 L1103.0,436.9 L1106.8,446.0 L1118.8,447.1 L1118.8,462.7 L1106.8,463.8 L1103.0,472.9 L1110.7,482.2 L1099.7,493.2 L1090.4,485.5 L1081.3,489.3 L1080.2,501.3 L1064.6,501.3 L1063.5,489.3 L1054.4,485.5 L1045.1,493.2 L1034.1,482.2 L1041.8,472.9 L1038.0,463.8 L1026.0,462.7 L1026.0,447.1 L1038.0,446.0 L1041.8,436.9 L1034.1,427.6 L1045.1,416.6 L1054.4,424.3 Z" fill="url(#dB)" opacity="0.6"/>
<path d="M1060.5,416.5 L1061.6,404.5 L1077.2,404.5 L1078.3,416.5 L1087.4,420.3 L1096.7,412.6 L1107.7,423.6 L1100.0,432.9 L1103.8,442.0 L1115.8,443.1 L1115.8,458.7 L1103.8,459.8 L1100.0,468.9 L1107.7,478.2 L1096.7,489.2 L1087.4,481.5 L1078.3,485.3 L1077.2,497.3 L1061.6,497.3 L1060.5,485.3 L1051.4,481.5 L1042.1,489.2 L1031.1,478.2 L1038.8,468.9 L1035.0,459.8 L1023.0,458.7 L1023.0,443.1 L1035.0,442.0 L1038.8,432.9 L1031.1,423.6 L1042.1,412.6 L1051.4,420.3 Z" fill="url(#gGear)" stroke="#121212" stroke-width="4.6" stroke-linejoin="round"/>
<circle cx="1069.4" cy="450.9" r="22.5" fill="#a88ae8" stroke="#121212" stroke-width="3.6"/>
<circle cx="1069.4" cy="450.9" r="12.8" fill="#fbfbf6" stroke="#121212" stroke-width="3.8"/>
<path d="M1149.8,664.5 L1170.7,671.1 L1149.8,677.7 L1128.9,671.1 Z" fill="#f9eed2"/><path d="M1128.9,671.1 L1149.8,677.7 L1149.8,703.7 L1128.9,697.1 Z" fill="#f2c474"/><path d="M1149.8,677.7 L1170.7,671.1 L1170.7,697.1 L1149.8,703.7 Z" fill="#f08a68"/><path d="M1149.8,664.5 L1170.7,671.1 L1170.7,697.1 L1149.8,703.7 L1128.9,697.1 L1128.9,671.1 Z M1128.9,671.1 L1149.8,677.7 L1170.7,671.1 M1149.8,677.7 L1149.8,703.7" fill="none" stroke="#121212" stroke-width="3.6" stroke-linejoin="round"/>
<path d="M1127.2,707.5 L1148.1,714.1 L1127.2,720.7 L1106.3,714.1 Z" fill="#f9eed2"/><path d="M1106.3,714.1 L1127.2,720.7 L1127.2,746.7 L1106.3,740.1 Z" fill="#7cb6f0"/><path d="M1127.2,720.7 L1148.1,714.1 L1148.1,740.1 L1127.2,746.7 Z" fill="url(#gCubeF)"/><path d="M1127.2,707.5 L1148.1,714.1 L1148.1,740.1 L1127.2,746.7 L1106.3,740.1 L1106.3,714.1 Z M1106.3,714.1 L1127.2,720.7 L1148.1,714.1 M1127.2,720.7 L1127.2,746.7" fill="none" stroke="#121212" stroke-width="3.6" stroke-linejoin="round"/>
<path d="M1171.8,707.5 L1192.7,714.1 L1171.8,720.7 L1150.9,714.1 Z" fill="#f9eed2"/><path d="M1150.9,714.1 L1171.8,720.7 L1171.8,746.7 L1150.9,740.1 Z" fill="url(#gCubeF)"/><path d="M1171.8,720.7 L1192.7,714.1 L1192.7,740.1 L1171.8,746.7 Z" fill="#a474e4"/><path d="M1171.8,707.5 L1192.7,714.1 L1192.7,740.1 L1171.8,746.7 L1150.9,740.1 L1150.9,714.1 Z M1150.9,714.1 L1171.8,720.7 L1192.7,714.1 M1171.8,720.7 L1171.8,746.7" fill="none" stroke="#121212" stroke-width="3.6" stroke-linejoin="round"/>
<path d="M209,1042 Q209,1039 212,1039 L259,1039 L281,1061 L281,1123 Q281,1126 278,1126 L212,1126 Q209,1126 209,1123 Z" transform="translate(-4,7)" fill="url(#dV)" opacity="0.7"/><path d="M209,1042 Q209,1039 212,1039 L259,1039 L281,1061 L281,1123 Q281,1126 278,1126 L212,1126 Q209,1126 209,1123 Z" fill="url(#gdoc209)"/><path d="M209,1042 Q209,1039 212,1039 L259,1039 L281,1061 L281,1123 Q281,1126 278,1126 L212,1126 Q209,1126 209,1123 Z" fill="none" stroke="#121212" stroke-width="3.6" stroke-linejoin="round"/><path d="M259,1039 L259,1059 Q259,1061 261,1061 L281,1061" fill="none" stroke="#121212" stroke-width="3.6" stroke-linejoin="round"/><path d="M222.5,1064 L245.25,1064" stroke="#121212" stroke-width="3.6" stroke-linecap="round"/><path d="M222.5,1075.5 L268,1075.5" stroke="#121212" stroke-width="3.6" stroke-linecap="round"/><path d="M222.5,1086.6 L268,1086.6" stroke="#121212" stroke-width="3.6" stroke-linecap="round"/><path d="M222.5,1097.7 L268,1097.7" stroke="#121212" stroke-width="3.6" stroke-linecap="round"/><path d="M222.5,1108.8 L248.89,1108.8" stroke="#121212" stroke-width="3.6" stroke-linecap="round"/>
<path d="M1161,1039.5 Q1161,1036.5 1164,1036.5 L1212.7,1036.5 L1234.7,1058.5 L1234.7,1125.5 Q1234.7,1128.5 1231.7,1128.5 L1164,1128.5 Q1161,1128.5 1161,1125.5 Z" transform="translate(-4,7)" fill="url(#dVs)" opacity="0.7"/><path d="M1161,1039.5 Q1161,1036.5 1164,1036.5 L1212.7,1036.5 L1234.7,1058.5 L1234.7,1125.5 Q1234.7,1128.5 1231.7,1128.5 L1164,1128.5 Q1161,1128.5 1161,1125.5 Z" fill="url(#gdoc1161)"/><path d="M1161,1039.5 Q1161,1036.5 1164,1036.5 L1212.7,1036.5 L1234.7,1058.5 L1234.7,1125.5 Q1234.7,1128.5 1231.7,1128.5 L1164,1128.5 Q1161,1128.5 1161,1125.5 Z" fill="none" stroke="#121212" stroke-width="3.6" stroke-linejoin="round"/><path d="M1212.7,1036.5 L1212.7,1056.5 Q1212.7,1058.5 1214.7,1058.5 L1234.7,1058.5" fill="none" stroke="#121212" stroke-width="3.6" stroke-linejoin="round"/><path d="M1175,1064 L1198.66,1064" stroke="#121212" stroke-width="3.6" stroke-linecap="round"/><path d="M1175,1075.2 L1220.5,1075.2" stroke="#121212" stroke-width="3.6" stroke-linecap="round"/><path d="M1175,1086.7 L1220.5,1086.7" stroke="#121212" stroke-width="3.6" stroke-linecap="round"/><path d="M1175,1098.3 L1220.5,1098.3" stroke="#121212" stroke-width="3.6" stroke-linecap="round"/><path d="M1175,1109.4 L1202.3,1109.4" stroke="#121212" stroke-width="3.6" stroke-linecap="round"/>
<path d="M1524.5,860 Q1524.5,857 1527.5,857 L1567,857 L1586,876 L1586,929 Q1586,932 1583,932 L1527.5,932 Q1524.5,932 1524.5,929 Z" transform="translate(-4,7)" fill="url(#dV)" opacity="0.7"/><path d="M1524.5,860 Q1524.5,857 1527.5,857 L1567,857 L1586,876 L1586,929 Q1586,932 1583,932 L1527.5,932 Q1524.5,932 1524.5,929 Z" fill="url(#gdoc1524)"/><path d="M1524.5,860 Q1524.5,857 1527.5,857 L1567,857 L1586,876 L1586,929 Q1586,932 1583,932 L1527.5,932 Q1524.5,932 1524.5,929 Z" fill="none" stroke="#121212" stroke-width="3.3" stroke-linejoin="round"/><path d="M1567,857 L1567,874 Q1567,876 1569,876 L1586,876" fill="none" stroke="#121212" stroke-width="3.3" stroke-linejoin="round"/><path d="M1537,879 L1555.5,879" stroke="#121212" stroke-width="3.3" stroke-linecap="round"/><path d="M1537,888.5 L1574,888.5" stroke="#121212" stroke-width="3.3" stroke-linecap="round"/><path d="M1537,898 L1574,898" stroke="#121212" stroke-width="3.3" stroke-linecap="round"/><path d="M1537,907 L1574,907" stroke="#121212" stroke-width="3.3" stroke-linecap="round"/><path d="M1537,916 L1559.2,916" stroke="#121212" stroke-width="3.3" stroke-linecap="round"/>
<path d="M480,1032 L560,1032 C570,1033 573,1045 570,1058 C566,1080 561,1100 563,1121 L508,1121 C500,1122 496,1130 499,1138 C493,1146 482,1140 485,1125 C486,1105 490,1080 491,1060 C492,1055 492,1052 490,1052 Z" transform="translate(-6,6)" fill="url(#dV)" opacity="0.7"/>
<path d="M480,1032 L560,1032 C570,1033 573,1045 570,1058 C566,1080 561,1100 563,1121 L508,1121 C500,1122 496,1130 499,1138 C493,1146 482,1140 485,1125 C486,1105 490,1080 491,1060 C492,1055 492,1052 490,1052 Z" fill="url(#gScroll)" stroke="#121212" stroke-width="5" stroke-linejoin="round"/>
<path d="M491,1052 L476,1052 C468,1051 468,1034 480,1032 C488,1031 493,1040 491,1052 Z" fill="#f2a4a0" stroke="#121212" stroke-width="5" stroke-linejoin="round"/>
<path d="M508,1121 L576,1121 C586,1122 586,1143 576,1143 L500,1144 C510,1140 513,1125 508,1121 Z" fill="#f3a888" stroke="#121212" stroke-width="5" stroke-linejoin="round"/>
<path d="M508,1053.4 L554.6,1053.4" stroke="#121212" stroke-width="4.6" stroke-linecap="round"/>
<path d="M507,1066.3 L553,1066.3" stroke="#121212" stroke-width="4.6" stroke-linecap="round"/>
<path d="M505.5,1079.8 L551,1079.8" stroke="#121212" stroke-width="4.6" stroke-linecap="round"/>
<path d="M504,1093.2 L548.5,1093.2" stroke="#121212" stroke-width="4.6" stroke-linecap="round"/>
<path d="M502,1106.7 L529,1106.7" stroke="#121212" stroke-width="4.6" stroke-linecap="round"/>
<path d="M308.0,1081.2 L385.0,1081.2 L382.0,1061.5 L427.0,1087.0 L382.0,1112.5 L385.0,1092.8 L308.0,1092.8 Z" transform="translate(2,8)" fill="url(#dV)" opacity="0.75"/><path d="M308.0,1081.2 L385.0,1081.2 L382.0,1061.5 L427.0,1087.0 L382.0,1112.5 L385.0,1092.8 L308.0,1092.8 Z" fill="url(#gArrIn)"/><path d="M308.0,1081.2 L385.0,1081.2 L382.0,1061.5 L427.0,1087.0 L382.0,1112.5 L385.0,1092.8 L308.0,1092.8 Z" fill="none" stroke="#121212" stroke-width="4" stroke-linejoin="round"/>
<path d="M986.0,1067.0 L1063.0,1067.0 L1060.0,1040.0 L1133.0,1086.0 L1060.0,1132.0 L1063.0,1105.0 L986.0,1105.0 Z" transform="translate(0,12)" fill="url(#dM)" opacity="0.75"/><path d="M986.0,1067.0 L1063.0,1067.0 L1060.0,1040.0 L1133.0,1086.0 L1060.0,1132.0 L1063.0,1105.0 L986.0,1105.0 Z" fill="url(#gArrOut)"/><g clip-path="url(#ca986_1086)"><rect x="981" y="1090" width="157" height="50" fill="url(#dM)" opacity="0.55"/></g><path d="M986.0,1067.0 L1063.0,1067.0 L1060.0,1040.0 L1133.0,1086.0 L1060.0,1132.0 L1063.0,1105.0 L986.0,1105.0 Z" fill="none" stroke="#121212" stroke-width="5" stroke-linejoin="round"/>
<path d="M2252.0,1048.0 L2341.0,1048.0 L2338.0,1017.5 L2430.0,1086.5 L2338.0,1155.5 L2341.0,1125.0 L2252.0,1125.0 Z" transform="translate(2,16)" fill="url(#dM)" opacity="0.75"/><path d="M2252.0,1048.0 L2341.0,1048.0 L2338.0,1017.5 L2430.0,1086.5 L2338.0,1155.5 L2341.0,1125.0 L2252.0,1125.0 Z" fill="url(#gArrBig)"/><g clip-path="url(#ca2252_1086)"><rect x="2247" y="1094.5" width="188" height="70" fill="url(#dM)" opacity="0.55"/></g><path d="M2252.0,1048.0 L2341.0,1048.0 L2338.0,1017.5 L2430.0,1086.5 L2338.0,1155.5 L2341.0,1125.0 L2252.0,1125.0 Z" fill="none" stroke="#121212" stroke-width="6" stroke-linejoin="round"/>
<path d="M1613.8,895.4 L1720.0,959.6 L1727.8,940.9 L1754.0,986.5 L1701.4,984.5 L1714.4,968.9 L1608.2,904.6 Z" transform="translate(2,8)" fill="url(#dV)" opacity="0.75"/><path d="M1613.8,895.4 L1720.0,959.6 L1727.8,940.9 L1754.0,986.5 L1701.4,984.5 L1714.4,968.9 L1608.2,904.6 Z" fill="url(#gA900)"/><path d="M1613.8,895.4 L1720.0,959.6 L1727.8,940.9 L1754.0,986.5 L1701.4,984.5 L1714.4,968.9 L1608.2,904.6 Z" fill="none" stroke="#121212" stroke-width="4.5" stroke-linejoin="round"/>
<path d="M1612.6,1032.6 L1711.0,1044.5 L1710.4,1024.2 L1753.0,1055.0 L1704.3,1074.8 L1709.7,1055.2 L1611.4,1043.4 Z" transform="translate(2,8)" fill="url(#dV)" opacity="0.75"/><path d="M1612.6,1032.6 L1711.0,1044.5 L1710.4,1024.2 L1753.0,1055.0 L1704.3,1074.8 L1709.7,1055.2 L1611.4,1043.4 Z" fill="url(#gA1038)"/><path d="M1612.6,1032.6 L1711.0,1044.5 L1710.4,1024.2 L1753.0,1055.0 L1704.3,1074.8 L1709.7,1055.2 L1611.4,1043.4 Z" fill="none" stroke="#121212" stroke-width="4.5" stroke-linejoin="round"/>
<path d="M1610.9,1156.7 L1709.8,1135.7 L1702.7,1116.6 L1753.0,1132.0 L1713.3,1166.5 L1712.1,1146.2 L1613.1,1167.3 Z" transform="translate(2,8)" fill="url(#dV)" opacity="0.75"/><path d="M1610.9,1156.7 L1709.8,1135.7 L1702.7,1116.6 L1753.0,1132.0 L1713.3,1166.5 L1712.1,1146.2 L1613.1,1167.3 Z" fill="url(#gA1162)"/><path d="M1610.9,1156.7 L1709.8,1135.7 L1702.7,1116.6 L1753.0,1132.0 L1713.3,1166.5 L1712.1,1146.2 L1613.1,1167.3 Z" fill="none" stroke="#121212" stroke-width="4.5" stroke-linejoin="round"/>
<path d="M1611.3,1285.3 L1713.1,1226.0 L1700.4,1210.1 L1753.0,1209.0 L1726.1,1254.2 L1718.6,1235.3 L1616.7,1294.7 Z" transform="translate(2,8)" fill="url(#dV)" opacity="0.75"/><path d="M1611.3,1285.3 L1713.1,1226.0 L1700.4,1210.1 L1753.0,1209.0 L1726.1,1254.2 L1718.6,1235.3 L1616.7,1294.7 Z" fill="url(#gA1290)"/><path d="M1611.3,1285.3 L1713.1,1226.0 L1700.4,1210.1 L1753.0,1209.0 L1726.1,1254.2 L1718.6,1235.3 L1616.7,1294.7 Z" fill="none" stroke="#121212" stroke-width="4.5" stroke-linejoin="round"/>
<rect x="1517" y="1006" width="77" height="59" rx="4" fill="url(#gImg)"/>
<path d="M1519,1061 L1540,1037 L1556,1052 L1571,1025 L1592,1042 L1592,1062 L1519,1062 Z" fill="url(#gMt)" opacity="0.85"/>
<path d="M1519,1061 L1540,1037 L1561.5,1056.5 M1554,1048 L1571.4,1025 L1592,1042" fill="none" stroke="#121212" stroke-width="3.6" stroke-linejoin="round" stroke-linecap="round"/>
<circle cx="1535" cy="1022.7" r="6.5" fill="#f8d8a0" stroke="#121212" stroke-width="3.4"/>
<rect x="1517" y="1006" width="77" height="59" rx="4" fill="none" stroke="#121212" stroke-width="4"/>
<path d="M1524,1157.5 L1534,1157.5 L1553,1142 L1553,1191.5 L1534,1176.5 L1524,1176.5 Q1522,1176.5 1522,1174.5 L1522,1159.5 Q1522,1157.5 1524,1157.5 Z" fill="url(#gAud)" stroke="#121212" stroke-width="4" stroke-linejoin="round"/>
<path d="M1563,1157.5 Q1572,1167 1563,1176.5 M1571,1149.5 Q1585,1167 1570.5,1184.5 M1579.5,1141.5 Q1600,1167 1579,1192" fill="none" stroke="#121212" stroke-width="3.6" stroke-linecap="round"/>
<rect x="1515" y="1267" width="62" height="52" rx="7" fill="url(#gVid)" stroke="#121212" stroke-width="4"/>
<path d="M1577,1286 L1595.5,1272.5 L1595.5,1313.5 L1577,1300 Z" fill="url(#gVid)" stroke="#121212" stroke-width="4" stroke-linejoin="round"/>
<path d="M1539.5,1281 L1555,1293 L1539.5,1304.5 Z" fill="#f6d8b0" stroke="#121212" stroke-width="3.6" stroke-linejoin="round"/>
<path d="M1811,989 Q1853,942 1896,989 Q1853,1036 1811,989 Z" transform="translate(3,5)" fill="url(#dV)" opacity="0.6"/>
<path d="M1811,989 Q1853,942 1896,989 Q1853,1036 1811,989 Z" fill="#fbe2c4" stroke="#121212" stroke-width="4.2" stroke-linejoin="round"/>
<circle cx="1852.5" cy="986.7" r="18" fill="#5a82da" stroke="#121212" stroke-width="4"/>
<circle cx="1852.5" cy="986.7" r="8.5" fill="#2a2430" stroke="#121212" stroke-width="2"/>
<circle cx="1849" cy="983" r="2.5" fill="#8fb0f0"/>
<path d="M1811,972 Q1820,958 1836,952.5 M1869,952.5 Q1886,958 1898,974 M1810,1005 Q1822,1020 1840,1026 M1871,1026 Q1888,1020 1897,1007" fill="none" stroke="#121212" stroke-width="4" stroke-linecap="round"/>
<path d="M1842,1073 C1842,1056 1853,1048 1866,1048 C1881,1048 1892,1060 1892,1077 C1892,1092 1884,1100 1879,1108 C1874,1117 1872,1131 1856,1131 C1846,1131 1841,1124 1841,1118 Z" transform="translate(4,5)" fill="url(#dV)" opacity="0.6"/>
<path d="M1842,1073 C1842,1056 1853,1048 1866,1048 C1881,1048 1892,1060 1892,1077 C1892,1092 1884,1100 1879,1108 C1874,1117 1872,1131 1856,1131 C1846,1131 1841,1124 1841,1118 L1841,1085 Z" fill="#f3ae90"/>
<path d="M1842,1073 C1842,1056 1853,1048 1866,1048 C1881,1048 1892,1060 1892,1077 C1892,1092 1884,1100 1879,1108 C1874,1117 1872,1131 1856,1131 C1846,1131 1841,1124 1841,1118" fill="none" stroke="#121212" stroke-width="4.2" stroke-linecap="round"/>
<path d="M1841,1073 L1842,1085" fill="none" stroke="#121212" stroke-width="4.2" stroke-linecap="round"/>
<path d="M1854,1077 C1853,1066 1860,1061 1868,1062 C1877,1063 1880,1072 1877,1080 M1866,1081 C1862,1076 1855,1080 1855,1088 C1855,1096 1852,1101 1849,1104 C1847,1108 1852,1112 1856,1108" fill="none" stroke="#121212" stroke-width="4" stroke-linecap="round"/>
<path d="M1805,1085 Q1812,1096 1805,1107 M1815,1076 Q1826,1096 1815,1116 M1825,1068 Q1841,1096 1825,1124" fill="none" stroke="#121212" stroke-width="3.8" stroke-linecap="round"/>
<path d="M1826,1220 C1810,1212 1804,1200 1804,1189 C1804,1168 1826,1155 1854,1155 C1882,1155 1903,1168 1903,1190 C1903,1210 1882,1224 1854,1224 C1847,1224 1841,1223 1836,1222 C1830,1229 1822,1235 1811,1239 C1818,1233 1823,1227 1826,1220 Z" transform="translate(5,6)" fill="url(#dV)" opacity="0.65"/>
<path d="M1826,1220 C1810,1212 1804,1200 1804,1189 C1804,1168 1826,1155 1854,1155 C1882,1155 1903,1168 1903,1190 C1903,1210 1882,1224 1854,1224 C1847,1224 1841,1223 1836,1222 C1830,1229 1822,1235 1811,1239 C1818,1233 1823,1227 1826,1220 Z" fill="url(#gBub)" stroke="#121212" stroke-width="4.2" stroke-linejoin="round"/>
<path d="M1828.6,1175.5 L1879.6,1175.5" stroke="#121212" stroke-width="3.6" stroke-linecap="round"/>
<path d="M1828.6,1186.3 L1879.6,1186.3" stroke="#121212" stroke-width="3.6" stroke-linecap="round"/>
<path d="M1828.6,1197.2 L1879.6,1197.2" stroke="#121212" stroke-width="3.6" stroke-linecap="round"/>
<path d="M1828.6,1208 L1860,1208" stroke="#121212" stroke-width="3.6" stroke-linecap="round"/>
<g filter="url(#blur3)" opacity="0.85"><ellipse cx="2540" cy="1095" rx="70" ry="75" fill="#f7c490"/><ellipse cx="2520" cy="1085" rx="28" ry="45" fill="#8fd8d0"/><ellipse cx="2560" cy="1080" rx="35" ry="25" fill="#c8a0e8"/><ellipse cx="2545" cy="1150" rx="40" ry="22" fill="#d8a0d8"/></g>
<path d="M2473,1032 Q2479,1020 2490,1014 M2600,1017 Q2611,1025 2616,1040 M2476,1144 Q2488,1166 2513,1175 M2596,1170 Q2610,1160 2616,1134" fill="none" stroke="#121212" stroke-width="4" stroke-linecap="round"/>
<path d="M2455,1042.5 L2505,1042.5 L2505,1135.5 L2455,1135.5 Q2452,1135.5 2452,1132.5 L2452,1045.5 Q2452,1042.5 2455,1042.5 Z" fill="#fbe6c6"/>
<path d="M2504,1042.5 L2455,1042.5 Q2452,1042.5 2452,1045.5 L2452,1132.5 Q2452,1135.5 2455,1135.5 L2502,1135.5" fill="none" stroke="#121212" stroke-width="4.2" stroke-linejoin="round" stroke-linecap="round"/>
<path d="M2466,1069 L2490,1069" stroke="#121212" stroke-width="4" stroke-linecap="round"/>
<path d="M2466,1081 L2514,1081" stroke="#121212" stroke-width="4" stroke-linecap="round"/>
<path d="M2466,1092 L2514,1092" stroke="#121212" stroke-width="4" stroke-linecap="round"/>
<path d="M2466,1104 L2514,1104" stroke="#121212" stroke-width="4" stroke-linecap="round"/>
<path d="M2466,1116 L2496,1116" stroke="#121212" stroke-width="4" stroke-linecap="round"/>
<rect x="2502" y="993" width="89" height="70" rx="4" fill="url(#gMimg)"/>
<path d="M2505,1052 L2529,1031 L2552,1053 L2544,1040 L2565,1016 L2589,1036 L2589,1060 L2505,1060 Z" fill="#78c8a0" opacity="0.85"/>
<path d="M2505,1052 L2529,1031 L2552,1053 M2543,1040 L2565,1016 L2589,1036" fill="none" stroke="#121212" stroke-width="4" stroke-linejoin="round" stroke-linecap="round"/>
<circle cx="2523" cy="1012" r="7" fill="#f8d0a0" stroke="#121212" stroke-width="3.6"/>
<rect x="2502" y="993" width="89" height="70" rx="4" fill="none" stroke="#121212" stroke-width="4.4"/>
<path d="M2529,1071 L2529,1105" stroke="#121212" stroke-width="4" stroke-linecap="round"/>
<rect x="2572" y="1050" width="69" height="70" rx="6" fill="url(#gChart)" stroke="#121212" stroke-width="4.4"/>
<path d="M2584,1105 L2629,1064 M2614,1062 L2630,1062 L2630,1078" fill="none" stroke="#121212" stroke-width="4.6" stroke-linecap="round" stroke-linejoin="round"/>
<path d="M2588,1080 Q2592,1068 2599,1074 Q2602,1085 2612,1096 L2622,1101 M2613,1108 L2624,1108 Q2630,1106 2627,1098" fill="none" stroke="#121212" stroke-width="4" stroke-linecap="round"/>
<circle cx="2622" cy="1093" r="3.5" fill="#121212"/>
<path d="M2502,1145 L2516,1145 L2521,1124 L2530,1170 L2541,1103 L2551,1175 L2560,1126 L2568,1162 L2575,1143 L2592,1143" fill="none" stroke="#121212" stroke-width="4.2" stroke-linejoin="round" stroke-linecap="round"/>
<text x="1089" y="181" font-size="67" font-weight="bold" textLength="770" lengthAdjust="spacingAndGlyphs">AI (Artificial Intelligence)</text>
<text x="1145" y="474" font-size="64" font-weight="bold" textLength="650" lengthAdjust="spacingAndGlyphs">Machine Learning (ML)</text>
<text x="1218" y="727" font-size="57" font-weight="bold" textLength="476" lengthAdjust="spacingAndGlyphs">Foundation Models</text>
<text x="1486" y="323" font-size="41" stroke="#141414" stroke-width="0.6" textLength="170" lengthAdjust="spacingAndGlyphs">subset of</text>
<text x="665" y="585" font-size="41" stroke="#141414" stroke-width="0.6" textLength="171" lengthAdjust="spacingAndGlyphs">subset of</text>
<text x="1975" y="585" font-size="41" stroke="#141414" stroke-width="0.6" textLength="217" lengthAdjust="spacingAndGlyphs">evolved into</text>
<text x="141" y="788" font-size="38.5" font-weight="bold" textLength="520" lengthAdjust="spacingAndGlyphs">Generative AI Capabilities</text>
<text x="2143" y="789" font-size="38.5" font-weight="bold" textLength="521" lengthAdjust="spacingAndGlyphs">Generative AI Capabilities</text>
<text x="593" y="1080" font-size="48" font-weight="bold" textLength="357" lengthAdjust="spacingAndGlyphs">Traditional LLM</text>
<text x="655" y="1134" font-size="46" font-weight="bold" textLength="233" lengthAdjust="spacingAndGlyphs">(Text-Only)</text>
<text x="1935" y="1088" font-size="49" font-weight="bold" textLength="269" lengthAdjust="spacingAndGlyphs">Native LMM</text>
<text x="1933" y="1145" font-size="46" font-weight="bold" textLength="271" lengthAdjust="spacingAndGlyphs">(e.g., Gemini)</text>
<text x="203" y="1184" font-size="41" font-weight="bold" textLength="83" lengthAdjust="spacingAndGlyphs">Text</text>
<text x="193" y="1236" font-size="41" font-weight="bold" textLength="105" lengthAdjust="spacingAndGlyphs">Input</text>
<text x="1162" y="1185" font-size="41" font-weight="bold" textLength="76" lengthAdjust="spacingAndGlyphs">Text</text>
<text x="1131" y="1233" font-size="41" font-weight="bold" textLength="134" lengthAdjust="spacingAndGlyphs">Output</text>
<text x="1517" y="976" font-size="37" font-weight="bold" textLength="75" lengthAdjust="spacingAndGlyphs">Text</text>
<text x="1502" y="1110" font-size="37" font-weight="bold" textLength="109" lengthAdjust="spacingAndGlyphs">Image</text>
<text x="1506" y="1236" font-size="37" font-weight="bold" textLength="98" lengthAdjust="spacingAndGlyphs">Audio</text>
<text x="1506" y="1366" font-size="37" font-weight="bold" textLength="98" lengthAdjust="spacingAndGlyphs">Video</text>
<text x="2431" y="1244" font-size="43" font-weight="bold" textLength="215" lengthAdjust="spacingAndGlyphs">Multimodal</text>
<text x="2473" y="1293" font-size="43" font-weight="bold" textLength="134" lengthAdjust="spacingAndGlyphs">Output</text>
<text x="533" y="1459" font-size="45" font-weight="bold" textLength="403" lengthAdjust="spacingAndGlyphs">Modular / Specialist</text>
<text x="1815" y="1458" font-size="45" font-weight="bold" textLength="505" lengthAdjust="spacingAndGlyphs">Integrated / Cross-Modal</text>
</svg>
</body></html>
